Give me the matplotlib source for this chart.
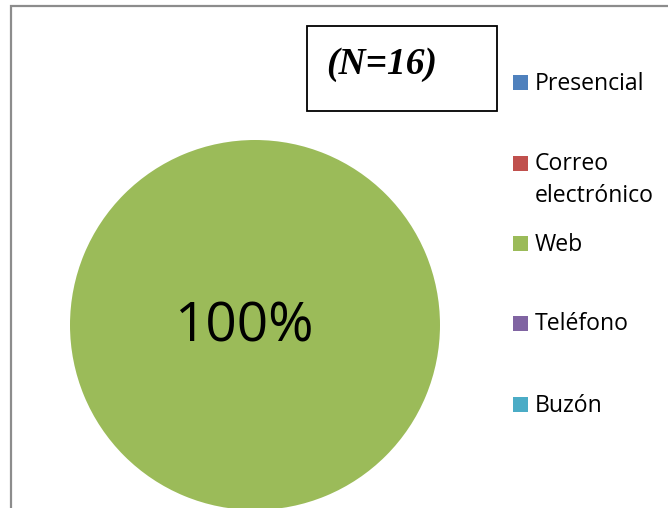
import matplotlib.pyplot as plt
from matplotlib.patches import Rectangle

labels = ['Presencial', 'Correo\nelectrónico', 'Web', 'Teléfono', 'Buzón']
values = [0, 0, 16, 0, 0]
colors = ['#4F81BD', '#C0504D', '#9BBB59', '#8064A2', '#4BACC6']
n_total = 16

W, H = 668, 508
fig = plt.figure(figsize=(W / 100, H / 100), dpi=100)

def px(x, y):
    # pixel coords from top-left -> figure fraction
    return x / W, 1 - y / H

# outer chart frame (gray)
fig.patches.append(Rectangle(px(11, 520), (W + 20) / W, 514 / H, transform=fig.transFigure,
                             fill=False, edgecolor='#8c8c8c', linewidth=1.6))

# pie
cx, cy, r = 255, 325, 185
ax = fig.add_axes([(cx - r) / W, 1 - (cy + r) / H, 2 * r / W, 2 * r / H])
wedges, _ = ax.pie(values, colors=colors, startangle=90, counterclock=False)
ax.set_xlim(-1, 1)
ax.set_ylim(-1, 1)
ax.axis('off')
pct = 100 * max(values) / sum(values)
ax.text(-0.06, -0.01, '%d%%' % pct, ha='center', va='center',
        fontsize=39.5, family='Open Sans', color='black')

# N box
fig.patches.append(Rectangle(px(307, 111), 190 / W, 85 / H, transform=fig.transFigure,
                             fill=False, edgecolor='black', linewidth=1.3))
fig.text(*px(326, 64), '(N=%d)' % n_total, ha='left', va='center', fontsize=27,
         family='Liberation Serif', fontweight='bold', fontstyle='italic')

# legend, drawn by hand to match the original spacing
leg_y = [82, 163, 243, 323, 404]
for lab, wdg, y in zip(labels, wedges, leg_y):
    fig.patches.append(Rectangle(px(513, y + 8), 15 / W, 15 / H, transform=fig.transFigure,
                                 facecolor=wdg.get_facecolor(), edgecolor='none'))
    fig.text(*px(535, y - 10.5), lab, ha='left', va='top', fontsize=16.6,
             family='Open Sans', linespacing=1.42)

fig.savefig('out.png', dpi=100)
